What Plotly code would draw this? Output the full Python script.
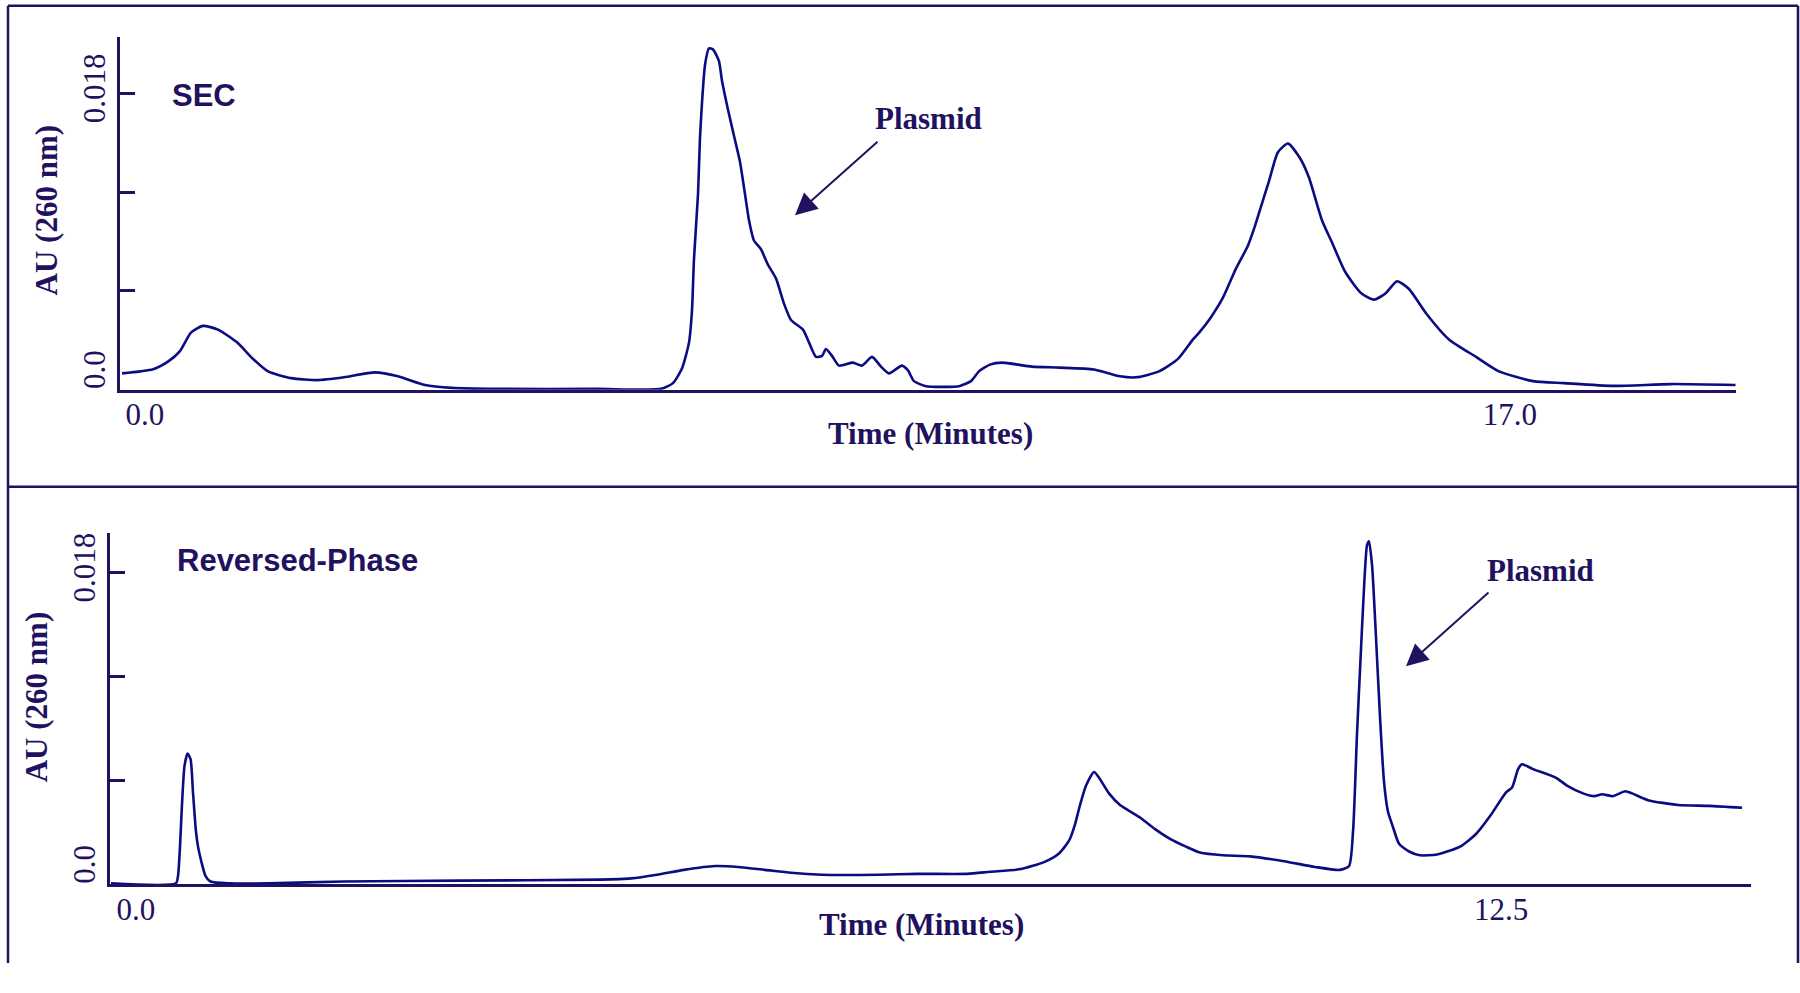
import plotly.graph_objects as go

# ---------------- data: SEC chromatogram (time in min, absorbance AU) ----------------
sec_time = [-0.286, 0.100, 0.286, 0.436, 0.573, 0.722, 0.909, 1.146, 1.345, 1.532, 1.818, 2.155,
            2.479, 2.865, 3.151, 3.487, 3.824, 4.384, 5.630, 6.427, 6.576, 6.688, 6.776, 6.813,
            6.838, 6.888, 6.912, 6.937, 6.975, 7.024, 7.074, 7.149, 7.186, 7.261, 7.336, 7.411,
            7.473, 7.523, 7.585, 7.672, 7.759, 7.859, 7.959, 8.046, 8.195, 8.270, 8.357, 8.432,
            8.482, 8.557, 8.644, 8.818, 8.930, 9.055, 9.167, 9.266, 9.428, 9.503, 9.578, 9.715,
            9.951, 10.151, 10.288, 10.387, 10.524, 10.674, 11.047, 11.384, 11.820, 12.144, 12.343,
            12.629, 12.866, 13.053, 13.140, 13.277, 13.426, 13.588, 13.738, 13.825, 13.900, 13.999,
            14.111, 14.236, 14.385, 14.497, 14.659, 14.784, 14.946, 15.145, 15.307, 15.457, 15.594,
            15.743, 15.955, 16.241, 16.578, 16.864, 17.287, 17.673, 18.284, 19.006, 19.810]
sec_au = [0.00100, 0.00125, 0.00171, 0.00235, 0.00347, 0.00388, 0.00365, 0.00288, 0.00188, 0.00112,
          0.00071, 0.00059, 0.00076, 0.00106, 0.00082, 0.00029, 0.00012, 0.00006, 0.00006, 0.00006,
          0.00041, 0.00129, 0.00288, 0.00482, 0.00794, 0.01188, 0.01523, 0.01735, 0.01970, 0.02071,
          0.02065, 0.01994, 0.01876, 0.01700, 0.01541, 0.01382, 0.01188, 0.01029, 0.00906, 0.00853,
          0.00759, 0.00676, 0.00523, 0.00424, 0.00365, 0.00288, 0.00200, 0.00206, 0.00247, 0.00206,
          0.00147, 0.00165, 0.00147, 0.00200, 0.00141, 0.00100, 0.00147, 0.00118, 0.00053, 0.00024,
          0.00018, 0.00024, 0.00053, 0.00112, 0.00153, 0.00165, 0.00141, 0.00135, 0.00124, 0.00082,
          0.00076, 0.00112, 0.00188, 0.00306, 0.00353, 0.00441, 0.00559, 0.00735, 0.00876, 0.00994,
          0.01112, 0.01265, 0.01441, 0.01494, 0.01406, 0.01288, 0.01029, 0.00894, 0.00718, 0.00588,
          0.00547, 0.00588, 0.00659, 0.00612, 0.00465, 0.00306, 0.00200, 0.00112, 0.00053, 0.00041,
          0.00024, 0.00035, 0.00029]

# ---------------- data: Reversed-phase chromatogram ----------------
rp_time = [-0.229, 0.366, 0.385, 0.403, 0.421, 0.444, 0.472, 0.500, 0.522, 0.549, 0.568, 0.602,
           0.636, 0.682, 0.861, 1.209, 1.905, 2.958, 4.249, 4.533, 4.771, 5.018, 5.302, 5.513,
           5.760, 5.998, 6.282, 6.804, 7.161, 7.610, 7.821, 8.104, 8.315, 8.452, 8.544, 8.599,
           8.645, 8.700, 8.773, 8.819, 8.910, 9.011, 9.194, 9.332, 9.469, 9.615, 9.744, 9.954,
           10.201, 10.513, 10.797, 11.026, 11.108, 11.145, 11.181, 11.209, 11.245, 11.273, 11.291,
           11.319, 11.355, 11.392, 11.429, 11.465, 11.511, 11.566, 11.658, 11.758, 11.914, 12.125,
           12.271, 12.408, 12.546, 12.601, 12.656, 12.692, 12.793, 13.004, 13.104, 13.251, 13.352,
           13.425, 13.526, 13.636, 13.700, 13.846, 14.121, 14.405, 14.707]
rp_au = [0.00006, 0.00007, 0.00050, 0.00218, 0.00458, 0.00682, 0.00755, 0.00721, 0.00531, 0.00307,
         0.00218, 0.00123, 0.00050, 0.00017, 0.00006, 0.00006, 0.00017, 0.00022, 0.00028, 0.00035,
         0.00056, 0.00084, 0.00106, 0.00101, 0.00084, 0.00067, 0.00056, 0.00056, 0.00061, 0.00061,
         0.00073, 0.00089, 0.00129, 0.00179, 0.00252, 0.00347, 0.00458, 0.00570, 0.00648, 0.00615,
         0.00525, 0.00458, 0.00386, 0.00319, 0.00263, 0.00218, 0.00184, 0.00168, 0.00162, 0.00134,
         0.00101, 0.00084, 0.00106, 0.00307, 0.00866, 0.01241, 0.01705, 0.01957, 0.01979, 0.01839,
         0.01425, 0.00961, 0.00587, 0.00419, 0.00330, 0.00235, 0.00190, 0.00168, 0.00173, 0.00218,
         0.00291, 0.00402, 0.00531, 0.00559, 0.00665, 0.00693, 0.00665, 0.00615, 0.00570, 0.00525,
         0.00509, 0.00520, 0.00509, 0.00537, 0.00525, 0.00486, 0.00458, 0.00453, 0.00442]

y_tickvals = [0, 0.006, 0.012, 0.018]
y_ticktext = ["\u00a0\u00a0\u00a0\u00a00.0", "", "", "0.018"]
sec_x_tickvals = [0, 17]
sec_x_ticktext = ["0.0", "17.0"]
rp_x_tickvals = [0, 12.5]
rp_x_ticktext = ["0.0", "12.5"]

W, H = 1800, 993
LINE = "#0c0c82"
INK = "#22115e"
SERIF = "Liberation Serif, Times New Roman, serif"
SANS = "Liberation Sans, Arial, sans-serif"


def px(x):
    return x / W


def py(y):
    return 1 - y / H


fig = go.Figure()
fig.add_trace(go.Scatter(x=sec_time, y=sec_au, mode="lines", xaxis="x", yaxis="y",
                         line=dict(color=LINE, width=2.6, shape="spline", smoothing=0.6),
                         hoverinfo="skip", showlegend=False))
fig.add_trace(go.Scatter(x=rp_time, y=rp_au, mode="lines", xaxis="x2", yaxis="y2",
                         line=dict(color=LINE, width=2.6, shape="spline", smoothing=0.6),
                         hoverinfo="skip", showlegend=False))

common_x = dict(showline=True, linecolor=INK, linewidth=3, ticks="", showgrid=False,
                zeroline=False, ticklabelstandoff=-5,
                tickfont=dict(family=SERIF, size=31, color=INK))
common_y = dict(showline=True, linecolor=INK, linewidth=3, ticks="inside", ticklen=15,
                tickwidth=2.5, tickcolor=INK, showgrid=False, zeroline=False,
                tickvals=y_tickvals, ticktext=y_ticktext, tickangle=-90,
                tickfont=dict(family=SERIF, size=31, color=INK))

fig.update_layout(
    width=W, height=H, margin=dict(l=0, r=0, t=0, b=0),
    paper_bgcolor="white", plot_bgcolor="white", showlegend=False,
    xaxis=dict(domain=[px(120), px(1736)], range=[-0.311, 19.816], anchor="y",
               tickvals=sec_x_tickvals, ticktext=sec_x_ticktext, **common_x),
    yaxis=dict(domain=[py(402), py(38)], range=[0, 0.02141], anchor="x", **common_y),
    xaxis2=dict(domain=[px(110), px(1751)], range=[-0.238, 14.789], anchor="y2",
                tickvals=rp_x_tickvals, ticktext=rp_x_ticktext, **common_x),
    yaxis2=dict(domain=[py(912), py(550)], range=[0, 0.02024], anchor="x2", **common_y),
)

# frame lines
frame = dict(color=INK, width=2.5)
shapes = [
    dict(type="line", xref="paper", yref="paper", x0=px(8), x1=px(1798), y0=py(6), y1=py(6), line=frame),
    dict(type="line", xref="paper", yref="paper", x0=px(8), x1=px(8), y0=py(6), y1=0, line=frame),
    dict(type="line", xref="paper", yref="paper", x0=px(1798), x1=px(1798), y0=py(6), y1=0, line=frame),
    dict(type="line", xref="paper", yref="paper", x0=px(8), x1=px(1798), y0=py(502), y1=py(502), line=frame),
]
fig.update_layout(shapes=shapes)

ann = []


def text(s, x, y, family, size=31, bold=True, angle=0):
    ann.append(dict(text=f"<b>{s}</b>" if bold else s, x=px(x), y=py(y), xref="paper", yref="paper",
                    showarrow=False, textangle=angle, xanchor="center", yanchor="middle",
                    font=dict(family=family, size=size, color=INK)))


text("SEC", 204, 98, SANS)
text("Reversed-Phase", 297, 578, SANS)
text("Plasmid", 929, 122, SERIF)
text("Plasmid", 1540, 588, SERIF)
text("Time (Minutes)", 930, 447, SERIF)
text("Time (Minutes)", 921, 953, SERIF)
text("AU (260 nm)", 46, 217, SERIF, angle=-90)
text("AU (260 nm)", 36, 719, SERIF, angle=-90)

for tip, tail in [((795, 222), (879, 147)), ((1406, 687), (1490, 612))]:
    ann.append(dict(text="", x=px(tip[0]), y=py(tip[1]), xref="paper", yref="paper",
                    showarrow=True, arrowhead=2, arrowsize=2.2, arrowwidth=2, arrowcolor=INK,
                    ax=tail[0] - tip[0], ay=tail[1] - tip[1], axref="pixel", ayref="pixel"))

fig.update_layout(annotations=ann)
fig.write_html("out.html")
